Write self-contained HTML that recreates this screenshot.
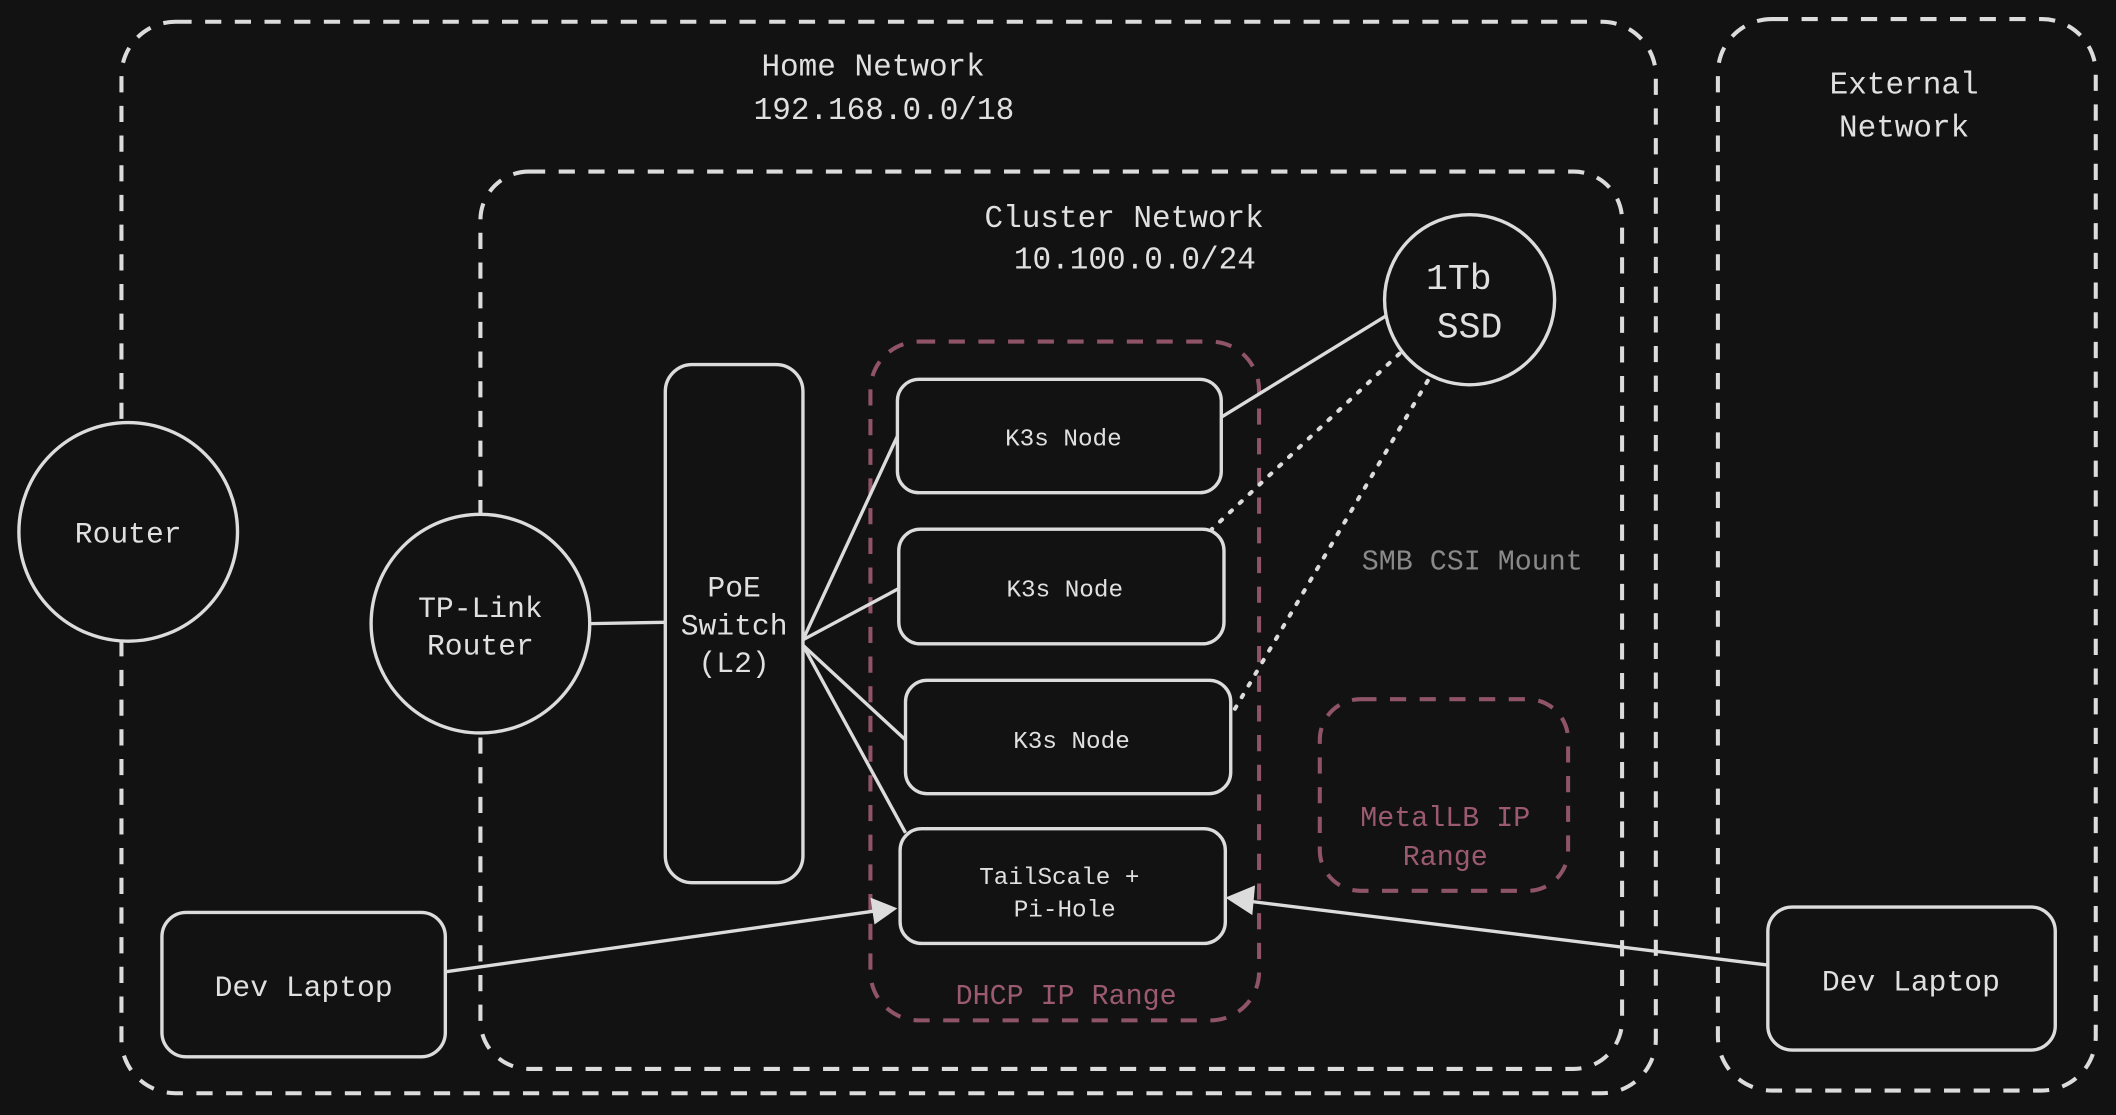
<!DOCTYPE html>
<html><head><meta charset="utf-8"><style>
html,body{margin:0;padding:0;background:#121212;}
svg{display:block}
text{font-family:"Liberation Mono","DejaVu Sans Mono",monospace;text-anchor:middle;fill:#e0e0e0}
</style></head><body>
<svg width="2116" height="1115" viewBox="0 0 1568 826" xmlns="http://www.w3.org/2000/svg">
<rect width="1568" height="826" fill="#121212"/>
<g fill="none" stroke="#dcdcdc" stroke-width="3" stroke-dasharray="12 10">
<rect x="90" y="16" width="1137" height="794" rx="40"/>
<rect x="1273" y="14" width="280" height="794" rx="40"/>
<rect x="356" y="127" width="846" height="665" rx="36"/>
</g>
<g fill="none" stroke="#8f5468" stroke-width="3" stroke-dasharray="12 10">
<rect x="645" y="253" width="288" height="503" rx="36"/>
<rect x="978" y="518" width="184" height="142" rx="30"/>
</g>
<g stroke="#dcdcdc" stroke-width="2.5" fill="none">
<line x1="437" y1="462" x2="493" y2="461"/>
<line x1="595" y1="474" x2="665" y2="323"/>
<line x1="595" y1="474" x2="666" y2="436"/>
<line x1="595" y1="478" x2="673" y2="550"/>
<line x1="595" y1="478" x2="671" y2="617"/>
<line x1="1027" y1="234" x2="905" y2="309"/>
<line x1="330" y1="720" x2="648" y2="675"/>
<line x1="1310" y1="715" x2="928" y2="668"/>
</g>
<g stroke="#dcdcdc" stroke-width="3" stroke-dasharray="2 8" stroke-linecap="round" fill="none">
<line x1="1037" y1="262" x2="898" y2="392"/>
<line x1="1058" y1="282" x2="914" y2="527"/>
</g>
<polygon points="665,673 645,665 648,685" fill="#dcdcdc"/>
<polygon points="908,665 930,656 928,678" fill="#dcdcdc"/>
<g fill="#121212" stroke="#dcdcdc" stroke-width="2.5">
<circle cx="95" cy="394" r="81"/>
<circle cx="356" cy="462" r="81"/>
<circle cx="1089" cy="222" r="63"/>
<rect x="493" y="270" width="102" height="384" rx="20"/>
<rect x="665" y="281" width="240" height="84" rx="16"/>
<rect x="666" y="392" width="241" height="85" rx="16"/>
<rect x="671" y="504" width="241" height="84" rx="16"/>
<rect x="667" y="614" width="241" height="85" rx="16"/>
<rect x="120" y="676" width="210" height="107" rx="18"/>
<rect x="1310" y="672" width="213" height="106" rx="18"/>
</g>
<g font-size="23">
<text x="647" y="56">Home Network</text>
<text x="655" y="88">192.168.0.0/18</text>
<text x="833" y="168">Cluster Network</text>
<text x="841" y="199">10.100.0.0/24</text>
<text x="1411" y="69">External</text>
<text x="1411" y="101">Network</text>
<text x="95" y="402" font-size="22">Router</text>
<text x="356" y="457" font-size="22">TP-Link</text>
<text x="356" y="485" font-size="22">Router</text>
<text x="544" y="442" font-size="22">PoE</text>
<text x="544" y="470" font-size="22">Switch</text>
<text x="544" y="498" font-size="22">(L2)</text>
<text x="1081" y="214" font-size="27">1Tb</text>
<text x="1089" y="250" font-size="27">SSD</text>
<text x="1091" y="422" font-size="21" fill="#8a8a8a" style="fill:#8a8a8a">SMB CSI Mount</text>
<text x="225" y="738" font-size="22">Dev Laptop</text>
<text x="1416" y="734" font-size="22">Dev Laptop</text>
<text x="790" y="744" font-size="21" style="fill:#9b5a70">DHCP IP Range</text>
<text x="1071" y="612" font-size="21" style="fill:#9b5a70">MetalLB IP</text>
<text x="1071" y="641" font-size="21" style="fill:#9b5a70">Range</text>
</g>
<g font-size="18">
<text x="788" y="330">K3s Node</text>
<text x="789" y="442">K3s Node</text>
<text x="794" y="554">K3s Node</text>
<text x="785" y="655">TailScale +</text>
<text x="789" y="679">Pi-Hole</text>
</g>
</svg>
</body></html>
